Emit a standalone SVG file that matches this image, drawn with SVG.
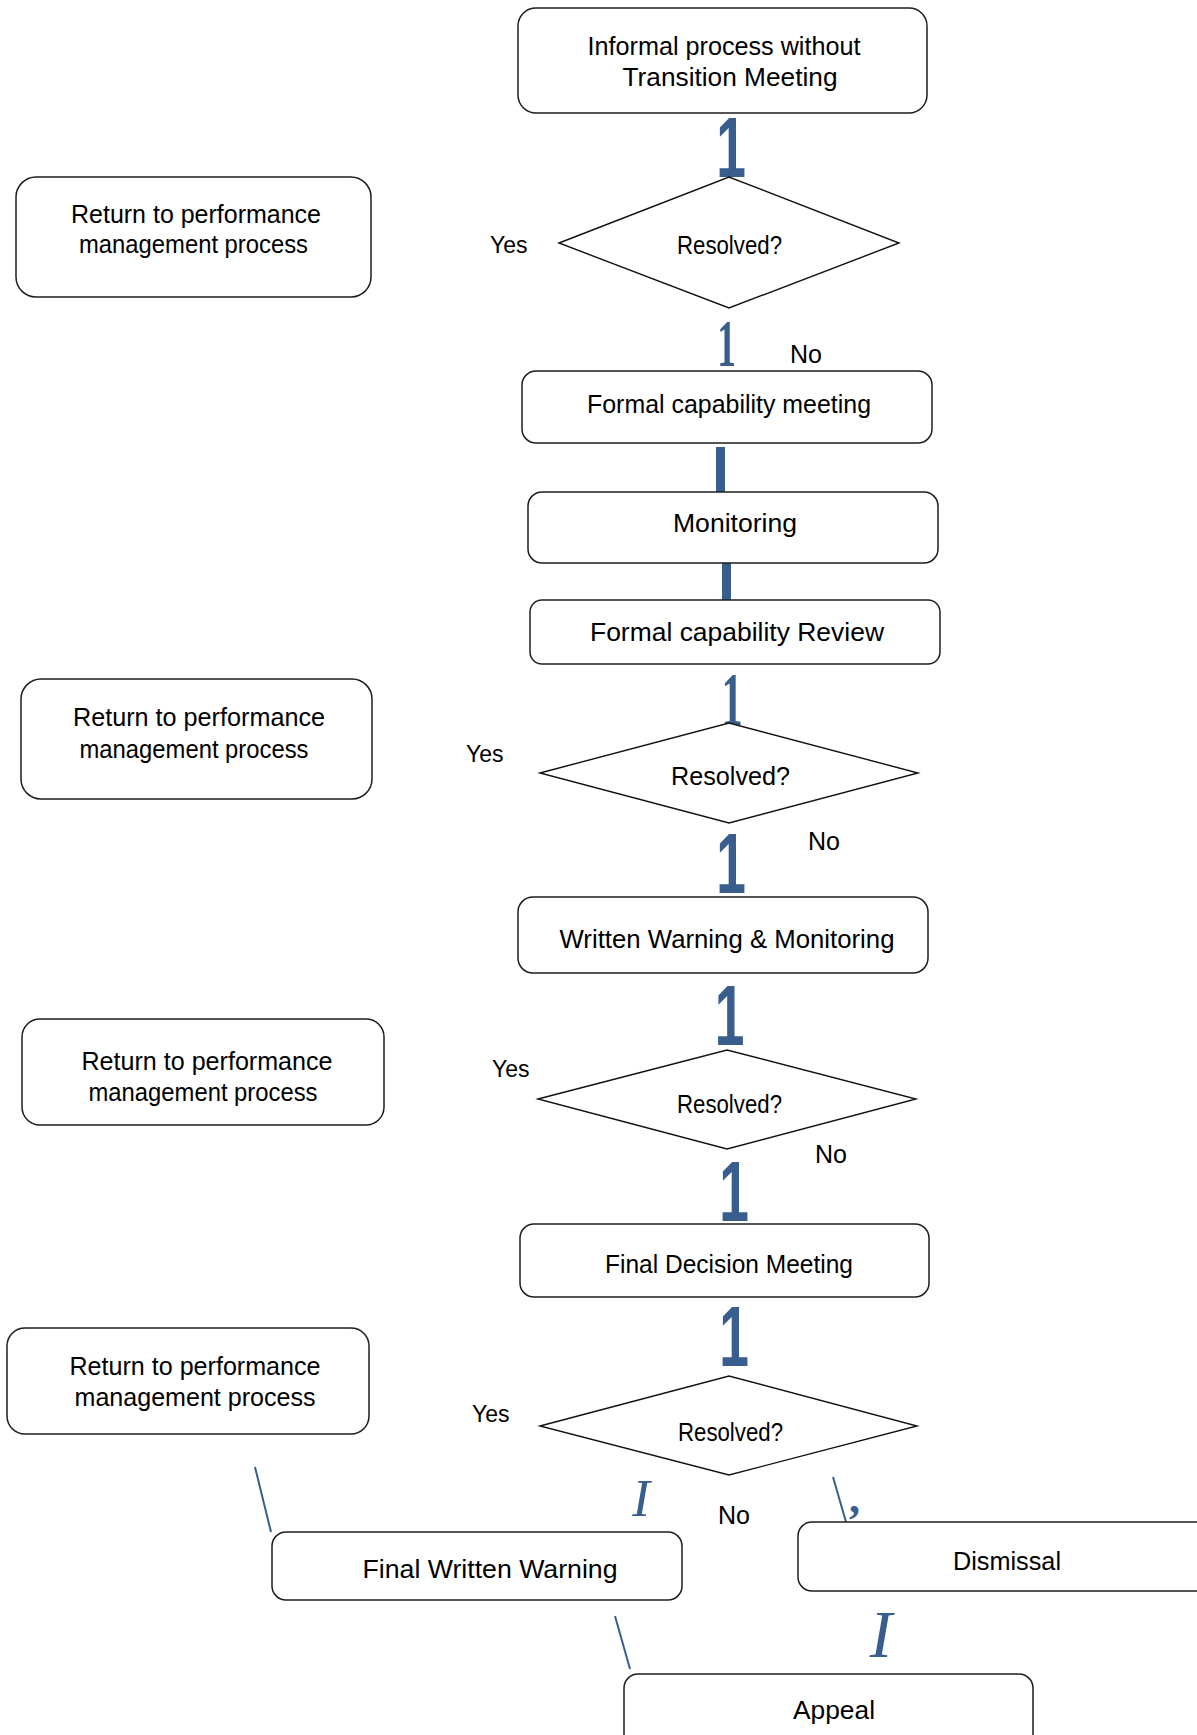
<svg xmlns="http://www.w3.org/2000/svg" width="1197" height="1735" viewBox="0 0 1197 1735">
<style>
.box{fill:#fff;stroke:#1e1e1e;stroke-width:1.5}
.dia{fill:#fff;stroke:#111;stroke-width:1.4}
.t{font-family:"Liberation Sans",Arial,sans-serif;font-size:25px;fill:#000;text-anchor:middle}
.lbl{font-family:"Liberation Sans",Arial,sans-serif;font-size:23px;fill:#000}
.no{font-family:"Liberation Sans",Arial,sans-serif;font-size:25px;fill:#000}
.b1{font-family:"Liberation Sans",Arial,sans-serif;font-weight:bold;font-size:86px;fill:#395e8e;text-anchor:middle}
.s1{font-family:"Liberation Serif","Times New Roman",serif;font-weight:bold;fill:#395e8e;text-anchor:middle}
.it{font-family:"Liberation Serif","Times New Roman",serif;font-style:italic;fill:#395e8e;text-anchor:middle}
.ln{stroke:#395e8e;stroke-width:2;fill:none}
.bar{fill:#395e8e}
</style>
<rect width="1197" height="1735" fill="#fff"/>

<g id="connectors">
  <text class="b1" transform="translate(731,177) scale(0.62,1)">1</text>
  <text class="s1" transform="translate(726.5,366) scale(0.55,1)" font-size="68">1</text>
  <rect class="bar" x="716" y="447" width="9" height="46"/>
  <rect class="bar" x="722" y="557" width="9" height="46"/>
  <text class="s1" transform="translate(732,725) scale(0.55,1)" font-size="77">1</text>
  <text class="b1" transform="translate(731,893) scale(0.62,1)">1</text>
  <text class="b1" transform="translate(729.5,1045) scale(0.62,1)">1</text>
  <text class="b1" transform="translate(734,1221) scale(0.62,1)">1</text>
  <text class="b1" transform="translate(734,1366) scale(0.62,1)">1</text>
  <line class="ln" x1="255" y1="1467" x2="271" y2="1532"/>
  <text class="it" x="641" y="1516" font-size="53">I</text>
  <line class="ln" x1="833" y1="1477" x2="846" y2="1522"/>
  <text x="849" y="1513" font-family="Liberation Serif, serif" font-weight="bold" font-size="44" fill="#395e8e">,</text>
  <line class="ln" x1="615" y1="1616" x2="630" y2="1669"/>
  <text class="it" x="881" y="1657" font-size="67">I</text>
</g>

<g id="labels">
  <text class="lbl" x="490" y="253">Yes</text>
  <text class="no" x="790" y="363">No</text>
  <text class="lbl" x="466" y="762">Yes</text>
  <text class="no" x="808" y="850">No</text>
  <text class="lbl" x="492" y="1077">Yes</text>
  <text class="no" x="815" y="1163">No</text>
  <text class="lbl" x="472" y="1422">Yes</text>
  <text class="no" x="718" y="1524">No</text>
</g>

<g id="n-informal">
  <rect class="box" x="518" y="8" width="409" height="105" rx="18"/>
  <text class="t" x="724" y="55" textLength="273" lengthAdjust="spacingAndGlyphs">Informal process without</text>
  <text class="t" x="730" y="86" textLength="215" lengthAdjust="spacingAndGlyphs">Transition Meeting</text>
</g>
<g id="n-resolved1">
  <polygon class="dia" points="559,243 729,177 899,243 729,308"/>
  <text class="t" x="729.5" y="254" textLength="105" lengthAdjust="spacingAndGlyphs">Resolved?</text>
</g>
<g id="n-return1">
  <rect class="box" x="16" y="177" width="355" height="120" rx="20"/>
  <text class="t" x="196" y="223" textLength="250" lengthAdjust="spacingAndGlyphs">Return to performance</text>
  <text class="t" x="193.5" y="253" textLength="229" lengthAdjust="spacingAndGlyphs">management process</text>
</g>
<g id="n-formal-meeting">
  <rect class="box" x="522" y="371" width="410" height="72" rx="14"/>
  <text class="t" x="729" y="413" textLength="284" lengthAdjust="spacingAndGlyphs">Formal capability meeting</text>
</g>
<g id="n-monitoring">
  <rect class="box" x="528" y="492" width="410" height="71" rx="14"/>
  <text class="t" x="735" y="532" textLength="124" lengthAdjust="spacingAndGlyphs">Monitoring</text>
</g>
<g id="n-formal-review">
  <rect class="box" x="530" y="600" width="410" height="64" rx="12"/>
  <text class="t" x="737" y="641" textLength="294" lengthAdjust="spacingAndGlyphs">Formal capability Review</text>
</g>
<g id="n-return2">
  <rect class="box" x="21" y="679" width="351" height="120" rx="20"/>
  <text class="t" x="199" y="726" textLength="252" lengthAdjust="spacingAndGlyphs">Return to performance</text>
  <text class="t" x="194" y="758" textLength="229" lengthAdjust="spacingAndGlyphs">management process</text>
</g>
<g id="n-resolved2">
  <polygon class="dia" points="540,773 729,723 918,773 729,823"/>
  <text class="t" x="730.5" y="785" textLength="119" lengthAdjust="spacingAndGlyphs">Resolved?</text>
</g>
<g id="n-written-warning">
  <rect class="box" x="518" y="897" width="410" height="76" rx="15"/>
  <text class="t" x="727" y="948" textLength="335" lengthAdjust="spacingAndGlyphs">Written Warning &amp; Monitoring</text>
</g>
<g id="n-resolved3">
  <polygon class="dia" points="538,1099 727,1050 916,1099 727,1149"/>
  <text class="t" x="729.5" y="1113" textLength="105" lengthAdjust="spacingAndGlyphs">Resolved?</text>
</g>
<g id="n-return3">
  <rect class="box" x="22" y="1019" width="362" height="106" rx="18"/>
  <text class="t" x="207" y="1070" textLength="251" lengthAdjust="spacingAndGlyphs">Return to performance</text>
  <text class="t" x="203" y="1101" textLength="229" lengthAdjust="spacingAndGlyphs">management process</text>
</g>
<g id="n-final-decision">
  <rect class="box" x="520" y="1224" width="409" height="73" rx="14"/>
  <text class="t" x="729" y="1273" textLength="248" lengthAdjust="spacingAndGlyphs">Final Decision Meeting</text>
</g>
<g id="n-resolved4">
  <polygon class="dia" points="540,1426 729,1376 917,1426 729,1475"/>
  <text class="t" x="730.5" y="1441" textLength="105" lengthAdjust="spacingAndGlyphs">Resolved?</text>
</g>
<g id="n-return4">
  <rect class="box" x="7" y="1328" width="362" height="106" rx="18"/>
  <text class="t" x="195" y="1375" textLength="251" lengthAdjust="spacingAndGlyphs">Return to performance</text>
  <text class="t" x="195" y="1406" textLength="241" lengthAdjust="spacingAndGlyphs">management process</text>
</g>
<g id="n-final-written">
  <rect class="box" x="272" y="1532" width="410" height="68" rx="14"/>
  <text class="t" x="490" y="1578" textLength="255" lengthAdjust="spacingAndGlyphs">Final Written Warning</text>
</g>
<g id="n-dismissal">
  <rect class="box" x="798" y="1522" width="440" height="69" rx="14"/>
  <text class="t" x="1007" y="1570" textLength="108" lengthAdjust="spacingAndGlyphs">Dismissal</text>
</g>
<g id="n-appeal">
  <rect class="box" x="624" y="1674" width="409" height="100" rx="14"/>
  <text class="t" x="834" y="1719" textLength="82" lengthAdjust="spacingAndGlyphs">Appeal</text>
</g>
</svg>
